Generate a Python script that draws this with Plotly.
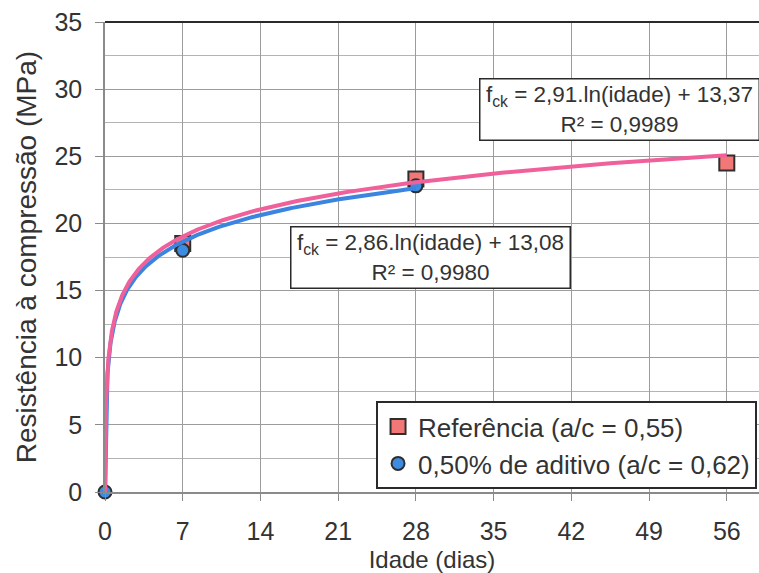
import numpy as np
import plotly.graph_objects as go

# Measured compressive strength (MPa) by age (days)
idade_ref = [7, 28, 56]
fck_ref = [18.5, 23.3, 24.5]

idade_adit = [0, 7, 28]
fck_adit = [0, 18.0, 22.8]

# Logarithmic trendline coefficients: fck = a*ln(idade) + b
a_ref, b_ref, r2_ref = 2.91, 13.37, "0,9989"
a_adit, b_adit, r2_adit = 2.86, 13.08, "0,9980"

nome_ref = "Referência (a/c = 0,55)"
nome_adit = "0,50% de aditivo (a/c = 0,62)"

x_ticks = [0, 7, 14, 21, 28, 35, 42, 49, 56]
y_ticks = [0, 5, 10, 15, 20, 25, 30, 35]

FONT = "Liberation Sans, Arial, sans-serif"
TXT = "#333333"

PINK_LINE = "#F0609A"
BLUE_LINE = "#3B84E0"
SQ_FILL = "#F27878"
CIR_FILL = "#3D8CE0"
EDGE = "#2e2e2e"


def trend(a, b, xmax):
    x0 = np.exp(-b / a)  # where the fitted curve crosses zero
    x = np.geomspace(x0, xmax, 500)
    return x, a * np.log(x) + b


fig = go.Figure()

fig.add_trace(go.Scatter(
    x=idade_ref, y=fck_ref, mode="markers", name=nome_ref,
    marker=dict(symbol="square", size=15, color=SQ_FILL,
                line=dict(color=EDGE, width=2)),
    cliponaxis=False,
))
fig.add_trace(go.Scatter(
    x=idade_adit, y=fck_adit, mode="markers", name=nome_adit,
    marker=dict(symbol="circle", size=13, color=CIR_FILL,
                line=dict(color=EDGE, width=2)),
    cliponaxis=False,
))

xa, ya = trend(a_adit, b_adit, max(idade_adit))
fig.add_trace(go.Scatter(x=xa, y=ya, mode="lines", showlegend=False,
                         line=dict(color=BLUE_LINE, width=4), hoverinfo="skip"))
xr, yr = trend(a_ref, b_ref, max(idade_ref))
fig.add_trace(go.Scatter(x=xr, y=yr, mode="lines", showlegend=False,
                         line=dict(color=PINK_LINE, width=4), hoverinfo="skip"))


def fmt(v):
    return f"{v:.2f}".replace(".", ",")


def eq_text(a, b, r2):
    return (f"f<sub>ck</sub> = {fmt(a)}.ln(idade) + {fmt(b)}"
            f"<br>R² = {r2}")


box = dict(showarrow=False, xref="paper", yref="paper",
           xanchor="center", yanchor="middle",
           font=dict(family=FONT, size=22.5, color=TXT),
           bgcolor="white", bordercolor="#2a2a2a", borderwidth=1.5,
           borderpad=2, align="center", width=274, height=56)

fig.add_annotation(x=0.787, y=0.813, text=eq_text(a_ref, b_ref, r2_ref), **box)
fig.add_annotation(x=0.497, y=0.498, text=eq_text(a_adit, b_adit, r2_adit), **box)

# heavy frame line along the top of the plotting area
fig.add_shape(type="line", xref="paper", yref="paper", x0=0, x1=1, y0=1, y1=1,
              line=dict(color="#2a2a2a", width=2))

fig.update_layout(
    width=759, height=573,
    margin=dict(l=105, r=0, t=22, b=81),
    paper_bgcolor="white", plot_bgcolor="white",
    font=dict(family=FONT, color=TXT),
    showlegend=True,
    legend=dict(
        x=0.997, xanchor="right", y=0.006, yanchor="bottom",
        bgcolor="white", bordercolor="#2a2a2a", borderwidth=2,
        font=dict(family=FONT, size=26, color=TXT),
        itemwidth=30, tracegroupgap=0,
    ),
    xaxis=dict(
        range=[0, 58.9], tickvals=x_ticks, ticktext=[str(v) for v in x_ticks],
        showgrid=True, gridcolor="#9c9c9c", gridwidth=1,
        zeroline=False, showline=True, linecolor="#8a8a8a", linewidth=1.5,
        ticks="outside", ticklen=7, tickcolor="#8a8a8a",
        tickfont=dict(family=FONT, size=25, color=TXT),
        ticklabelstandoff=9,
        title=dict(text="Idade (dias)", font=dict(family=FONT, size=24, color=TXT),
                   standoff=12),
    ),
    yaxis=dict(
        range=[0, 35], tickvals=y_ticks,
        showgrid=True, gridcolor="#9c9c9c", gridwidth=1,
        minor=dict(dtick=2.5, showgrid=True, gridcolor="#b4b4b4", gridwidth=1),
        zeroline=False, showline=True, linecolor="#8a8a8a", linewidth=1.5,
        ticks="outside", ticklen=8, tickcolor="#8a8a8a",
        tickfont=dict(family=FONT, size=25, color=TXT),
        ticklabelstandoff=8,
        title=dict(text="Resistência à compressão (MPa)",
                   font=dict(family=FONT, size=28, color=TXT), standoff=10),
    ),
)

fig.write_html("out.html")
